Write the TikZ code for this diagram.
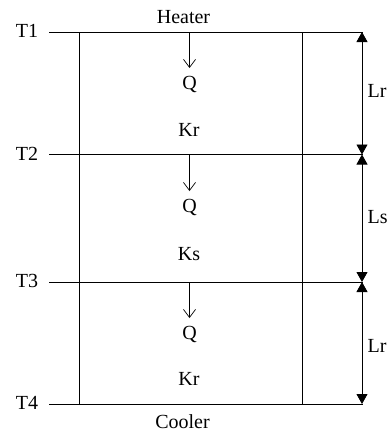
\documentclass[tikz,border=0pt]{standalone}
\usepackage{fontspec}
\setmainfont{Liberation Serif}
\usetikzlibrary{arrows.meta}
\begin{document}
\begin{tikzpicture}[x=1pt,y=-1pt,
  lbl/.style={font=\fontsize{20}{22}\selectfont, inner sep=0pt},
  wall/.style={line width=0.8pt},
  flow/.style={line width=0.7pt,-{Straight Barb[length=8pt,width=12pt,line width=0.7pt]}},
  dim/.style={line width=0.9pt,{Triangle[length=10pt,width=11pt]}-{Triangle[length=10pt,width=11pt]}}]
\useasboundingbox (0,0) rectangle (389,434);
% levels
\coordinate (l1) at (49,32);
\coordinate (r1) at (363,32);
\coordinate (l2) at (49,154.5);
\coordinate (r2) at (363,154.5);
\coordinate (l3) at (49,282);
\coordinate (r3) at (363,282);
\coordinate (l4) at (49,404);
\coordinate (r4) at (363,404);
\draw[wall] (l1) -- (r1);
\draw[wall] (l2) -- (r2);
\draw[wall] (l3) -- (r3);
\draw[wall] (l4) -- (r4);
% vertical walls
\coordinate (vl1) at (79,32);
\coordinate (vl4) at (79,404);
\coordinate (vr1) at (302,32);
\coordinate (vr4) at (302,404);
\draw[wall] (vl1) -- (vl4);
\draw[wall] (vr1) -- (vr4);
% labels
\node[lbl] (t1) at (27,31) {T1};
\node[lbl] (t2) at (27,154) {T2};
\node[lbl] (t3) at (27,281) {T3};
\node[lbl] (t4) at (27,403) {T4};
\node[lbl] (heater) at (183.5,17) {Heater};
\node[lbl] (cooler) at (182.5,422) {Cooler};
% heat flow arrows
\coordinate (a1) at (189.5,32);
\coordinate (a2) at (189.5,154.5);
\coordinate (a3) at (189.5,282);
\node[lbl] (q1) at (189.5,84) {Q};
\node[lbl] (q2) at (189.5,207) {Q};
\node[lbl] (q3) at (189.5,334) {Q};
\coordinate (b1) at (189.5,68);
\coordinate (b2) at (189.5,191);
\coordinate (b3) at (189.5,318);
\draw[flow] (a1) -- (b1);
\draw[flow] (a2) -- (b2);
\draw[flow] (a3) -- (b3);
\node[lbl] (k1) at (189,129.5) {Kr};
\node[lbl] (k2) at (189,254.5) {Ks};
\node[lbl] (k3) at (189,379) {Kr};
% dimension arrows
\coordinate (d1) at (362,32);
\coordinate (d2) at (362,154.5);
\coordinate (d3) at (362,282);
\coordinate (d4) at (362,404);
\draw[dim] (d1) -- (d2);
\draw[dim] (d2) -- (d3);
\draw[dim] (d3) -- (d4);
\node[lbl,anchor=west] (lr1) at (367.5,91) {Lr};
\node[lbl,anchor=west] (ls) at (367.5,217) {Ls};
\node[lbl,anchor=west] (lr2) at (367.5,346) {Lr};
\end{tikzpicture}
\end{document}
